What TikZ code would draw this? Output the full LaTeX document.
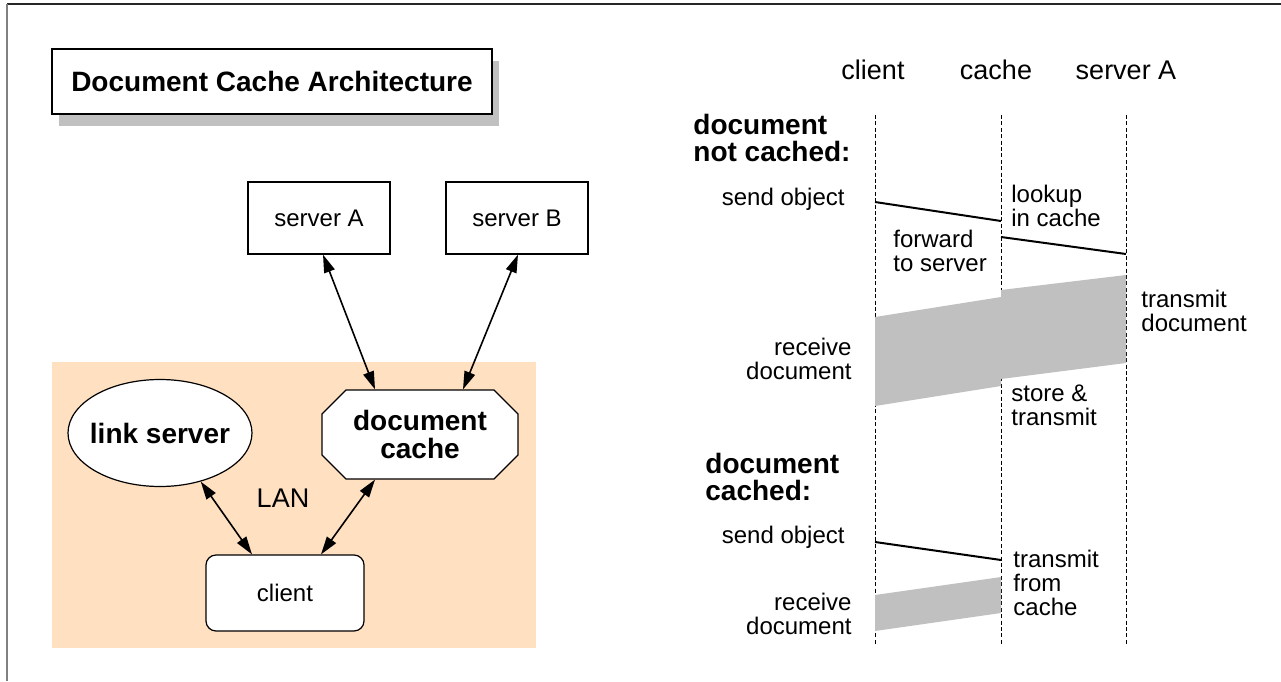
\documentclass[tikz,border=0pt]{standalone}
\usepackage{fontspec}
\setmainfont{Liberation Sans}
\usetikzlibrary{arrows.meta,shapes.geometric,shapes.misc,shadows}
\definecolor{lanpeach}{RGB}{255,224,193}
\definecolor{blockgray}{RGB}{192,192,192}
\tikzset{
  box/.style={draw, line width=0.6pt, fill=white, inner sep=0pt,
    font=\fontsize{12}{12}\selectfont},
  titlebox/.style={box, minimum width=220pt, minimum height=32.5pt,
    font=\fontsize{14}{14}\selectfont\bfseries,
    drop shadow={shadow xshift=3.5pt, shadow yshift=-5.75pt, fill=blockgray, opacity=1}},
  srvbox/.style={box, minimum width=71pt, minimum height=36pt},
  linknode/.style={box, ellipse, inner xsep=-2.5pt, minimum width=91.5pt, minimum height=53.5pt,
    font=\fontsize{14}{14}\selectfont\bfseries},
  cachenode/.style={box, chamfered rectangle, chamfered rectangle xsep=6pt,
    chamfered rectangle ysep=6pt, minimum width=98pt, minimum height=44.5pt,
    align=center, font=\fontsize{14}{13.7}\selectfont\bfseries},
  clientnode/.style={box, rounded corners=5pt, minimum width=79pt, minimum height=38pt},
  dblarrow/.style={{Triangle[length=9pt,width=5.5pt]}-{Triangle[length=9pt,width=5.5pt]}, line width=0.8pt},
  lifeline/.style={line width=0.5pt, dash pattern=on 2pt off 1.2pt},
  msg/.style={line width=1pt},
  xfer/.style={fill=blockgray},
  lbl/.style={font=\fontsize{12}{12}\selectfont, inner sep=0pt, align=left},
  rlbl/.style={lbl, align=right},
  head/.style={font=\fontsize{13.5}{13.5}\selectfont, inner sep=0pt},
  casehead/.style={font=\fontsize{14}{13.5}\selectfont\bfseries, inner sep=0pt, align=left}
}

\begin{document}
\begin{tikzpicture}[x=0.5pt, y=-0.5pt]
  \useasboundingbox (0,0) rectangle (1281,681);
  % page frame
  \draw[line width=0.8pt, black!85] (1281,4) -- (7,4);
  \draw[line width=0.9pt, black!50] (7,4) -- (7,681);

  % architecture
  \node (title) [titlebox] at (272,81.5) {Document Cache Architecture};
  \fill[lanpeach] (52,362) rectangle (536,648);
  \node (srvA) [srvbox] at (319,218) {server A};
  \node (srvB) [srvbox] at (517,218) {server B};
  \node (link) [linknode] at (160,433) {link server};
  \node (cache) [cachenode] at (420,434.5) {document\\cache};
  \node (client) [clientnode] at (285,593) {client};
  \node (lan) [head] at (283,498) {LAN};

  \draw[dblarrow] ([xshift=2pt]srvA.south) -- ([xshift=-22.5pt]cache.north);
  \draw[dblarrow] ([xshift=0.5pt]srvB.south) -- ([xshift=21.5pt]cache.north);
  \draw[dblarrow] (link.-50) -- ([xshift=-16.5pt]client.north);
  \draw[dblarrow] ([xshift=-22.5pt]cache.south) -- ([xshift=18pt]client.north);

  % time lines
  \node (tcl) [head, anchor=base] at (873,79) {client};
  \node (tca) [head, anchor=base] at (996,79) {cache};
  \node (tsv) [head, anchor=base] at (1126,79) {server A};
  \foreach \nm/\xx in {cl/875, ca/1001, sv/1126} {
    \coordinate (\nm top) at (\xx,115);
    \coordinate (\nm bot) at (\xx,645);
    \draw[lifeline] (\nm top) -- (\nm bot);
  }

  % document not cached
  \node (miss) [casehead, anchor=west] at (693,137.5) {document\\not cached:};
  \node (send1) [lbl, anchor=base east] at (845,205) {send object};
  \coordinate (req1) at (875,202);
  \coordinate (req1c) at (1001,221);
  \coordinate (req2) at (1001,237);
  \coordinate (req2s) at (1126,254);
  \draw[msg] (req1) -- (req1c);
  \draw[msg] (req2) -- (req2s);
  \node (lookup) [lbl, anchor=west] at (1011,206) {lookup\\in cache};
  \node (fwd) [lbl, anchor=west] at (893,251) {forward\\to server};
  \fill[xfer] (1001,290) -- (1126,275) -- (1126,363) -- (1001,379) -- cycle;
  \fill[xfer] (875,317) -- (1001,297) -- (1001,386) -- (875,406) -- cycle;
  \node (tdoc) [lbl, anchor=west] at (1141,311) {transmit\\document};
  \node (recv1) [rlbl, anchor=east] at (852,359) {receive\\document};
  \node (store) [lbl, anchor=west] at (1011,405) {store \&\\transmit};

  % document cached
  \node (hit) [casehead, anchor=west] at (705,476.5) {document\\cached:};
  \node (send2) [lbl, anchor=base east] at (845,543) {send object};
  \coordinate (req3) at (875,542);
  \coordinate (req3c) at (1001,560);
  \draw[msg] (req3) -- (req3c);
  \node (fromc) [lbl, anchor=west] at (1013,583) {transmit\\from\\cache};
  \fill[xfer] (875,595) -- (1001,577) -- (1001,613) -- (875,631) -- cycle;
  \node (recv2) [rlbl, anchor=east] at (852,614) {receive\\document};
\end{tikzpicture}
\end{document}
